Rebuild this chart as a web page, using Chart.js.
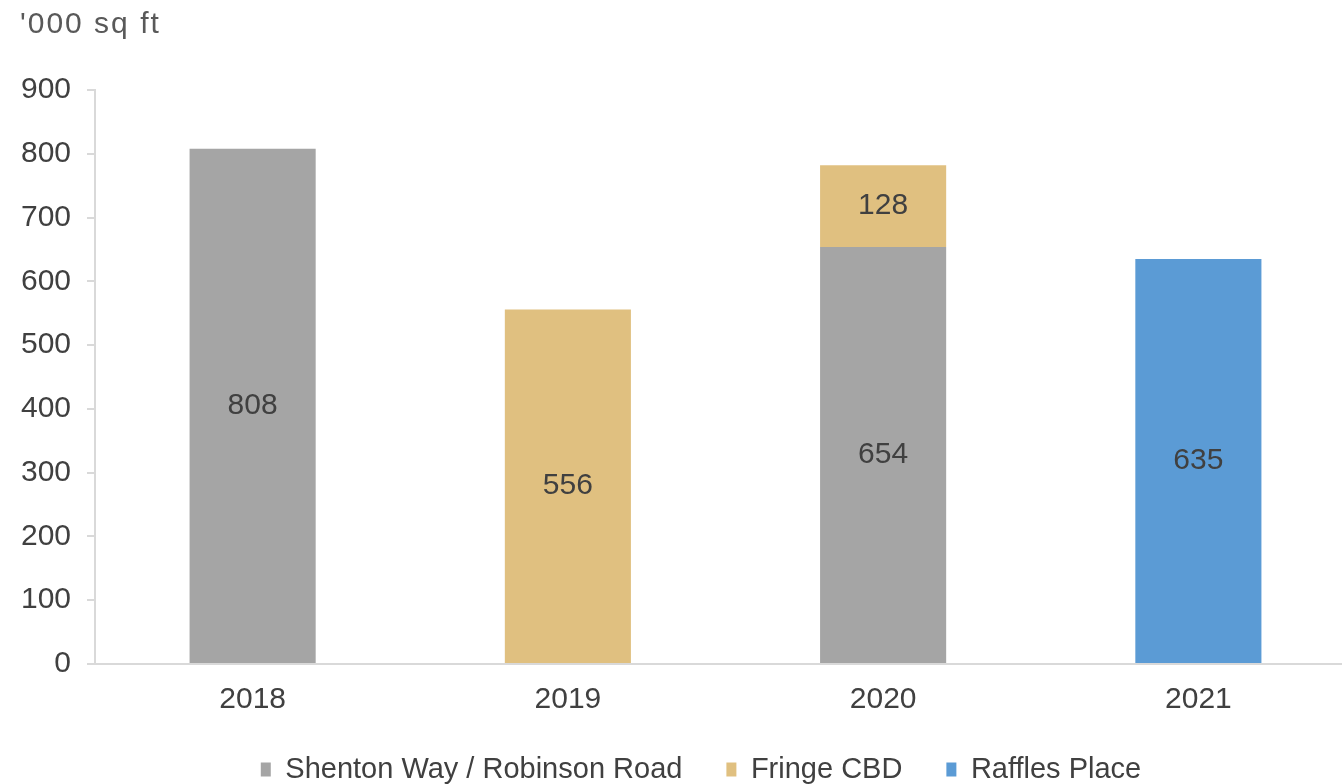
<!DOCTYPE html>
<html>
<head>
<meta charset="utf-8">
<script src="https://cdn.jsdelivr.net/npm/chart.js@4"></script>
<style>
  html, body { margin: 0; padding: 0; background: #fff; overflow: hidden; }
  #wrap { position: relative; width: 1404px; height: 784px; }
</style>
</head>
<body>
<div id="wrap"><canvas id="chart"></canvas></div>
<script>
const years = ["2018", "2019", "2020", "2021"];
const shentonRobinson = [808, null, 654, null];
const fringeCbd = [null, 556, 128, null];
const rafflesPlace = [null, null, null, 635];
const yTicks = [0, 100, 200, 300, 400, 500, 600, 700, 800, 900];
const unitLabel = "'000 sq ft";

const textColor = "#404040";
const axisColor = "#D9D9D9";
const font = "'Liberation Sans', Arial, sans-serif";

// values drawn in the middle of each bar segment
const barLabels = {
  id: "barLabels",
  afterDatasetsDraw(chart) {
    const ctx = chart.ctx;
    ctx.save();
    ctx.fillStyle = textColor;
    ctx.font = `30px ${font}`;
    ctx.textAlign = "center";
    ctx.textBaseline = "middle";
    chart.data.datasets.forEach((ds, i) => {
      const meta = chart.getDatasetMeta(i);
      meta.data.forEach((bar, j) => {
        const v = ds.data[j];
        if (v == null) return;
        ctx.fillText(String(v), bar.x, (bar.y + bar.base) / 2);
      });
    });
    ctx.restore();
  },
};

const unitText = {
  id: "unitText",
  afterDraw(chart) {
    const ctx = chart.ctx;
    ctx.save();
    ctx.fillStyle = "#595959";
    ctx.font = `30px ${font}`;
    ctx.letterSpacing = "2px";
    ctx.textBaseline = "middle";
    ctx.fillText(unitLabel, 20, 25);
    ctx.restore();
  },
};

// legend in the original sits a little right of the canvas centre
const legendShift = {
  id: "legendShift",
  afterLayout(chart) {
    if (!chart.legend) return;
    chart.legend.left += 23;
    chart.legend.right += 23;
  },
};

new Chart(document.getElementById("chart"), {
  type: "bar",
  data: {
    labels: years,
    datasets: [
      { label: "Shenton Way / Robinson Road", data: shentonRobinson, backgroundColor: "#A5A5A5" },
      { label: "Fringe CBD", data: fringeCbd, backgroundColor: "#E0C080" },
      { label: "Raffles Place", data: rafflesPlace, backgroundColor: "#5B9BD5" },
    ],
  },
  plugins: [barLabels, unitText, legendShift],
  options: {
    responsive: true,
    maintainAspectRatio: false,
    animation: false,
    layout: { padding: { top: 90, right: 48, left: 0, bottom: -10 } },
    datasets: { bar: { barPercentage: 0.4, categoryPercentage: 1 } },
    scales: {
      x: {
        stacked: true,
        afterFit(scale) { scale.height = 47; },
        grid: { display: false },
        border: { color: axisColor, width: 2 },
        ticks: { color: textColor, font: { family: font, size: 30 }, padding: 10 },
      },
      y: {
        stacked: true,
        min: 0,
        max: 900,
        afterBuildTicks(scale) { scale.ticks = yTicks.map((v) => ({ value: v })); },
        afterFit(scale) { scale.width = 95; },
        grid: { drawOnChartArea: false, tickLength: 8, color: axisColor, lineWidth: 2 },
        border: { color: axisColor, width: 2 },
        ticks: { color: textColor, font: { family: font, size: 30 }, padding: 16 },
      },
    },
    plugins: {
      tooltip: { enabled: false },
      legend: {
        position: "bottom",
        labels: {
          color: textColor,
          font: { family: font, size: 29 },
          boxWidth: 10,
          boxHeight: 14,
          padding: 44,
        },
      },
    },
  },
});
</script>
</body>
</html>
